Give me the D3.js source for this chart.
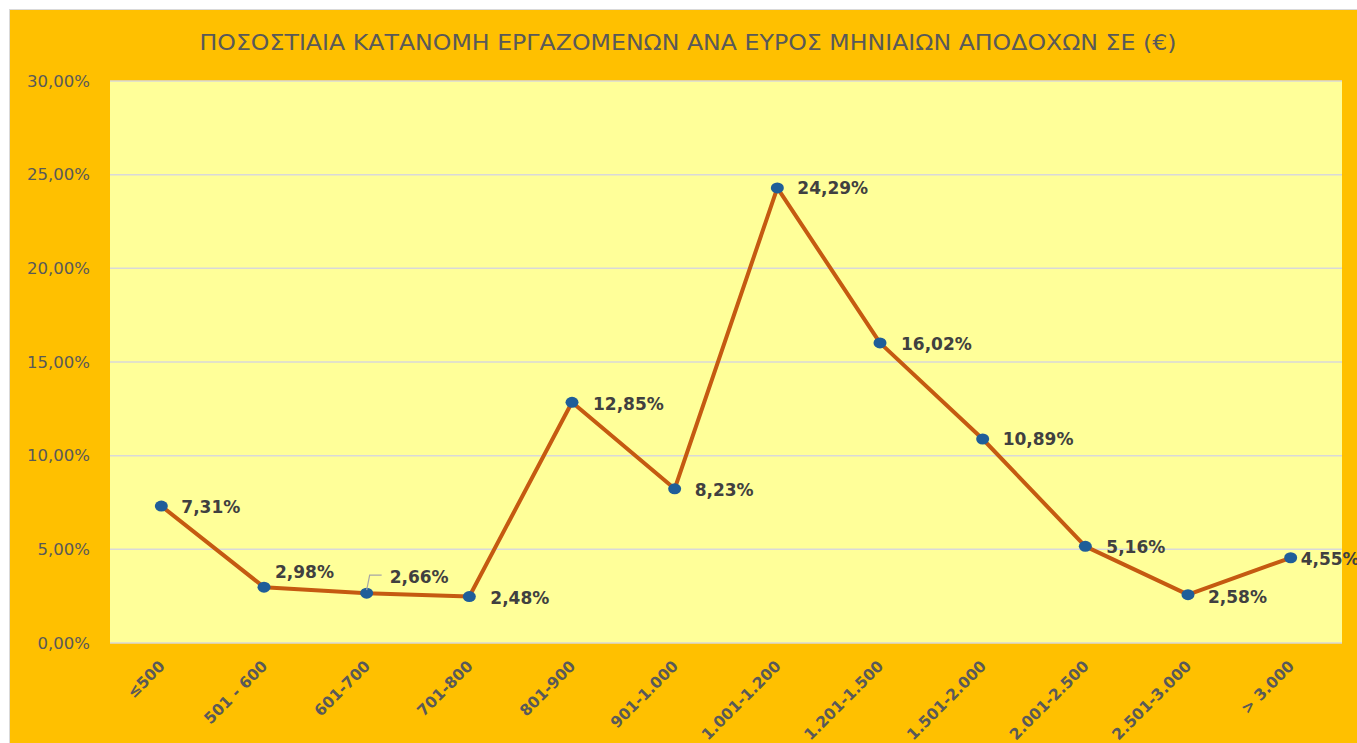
<!DOCTYPE html>
<html>
<head>
<meta charset="utf-8">
<script src="https://d3js.org/d3.v7.min.js"></script>
<style>
  body { margin: 0; background: #fff; }
  svg { display: block; }
</style>
</head>
<body>
<svg id="chart"></svg>
<script>
// salary bands and share of employees (%)
var categories = ["≤500", "501 - 600", "601-700", "701-800", "801-900", "901-1.000",
  "1.001-1.200", "1.201-1.500", "1.501-2.000", "2.001-2.500", "2.501-3.000", "> 3.000"];
var shares = [7.31, 2.98, 2.66, 2.48, 12.85, 8.23, 24.29, 16.02, 10.89, 5.16, 2.58, 4.55];
var yTicks = [0, 5, 10, 15, 20, 25, 30];
var title = "ΠΟΣΟΣΤΙΑΙΑ ΚΑΤΑΝΟΜΗ ΕΡΓΑΖΟΜΕΝΩΝ ΑΝΑ ΕΥΡΟΣ ΜΗΝΙΑΙΩΝ ΑΠΟΔΟΧΩΝ ΣΕ (€)";

var W = 1357, H = 743;
var plot = {left: 110, right: 1342, top: 81, bottom: 643};

var fmt = function(v) { return v.toFixed(2).replace(".", ",") + "%"; };

var svg = d3.select("#chart").attr("width", W).attr("height", H);

// outer chart area
svg.append("rect")
  .attr("x", 9.5).attr("y", 9.5)
  .attr("width", W).attr("height", H)
  .attr("fill", "#FFC000")
  .attr("stroke", "#D9D9D9");

svg.append("rect")
  .attr("x", plot.left).attr("y", plot.top)
  .attr("width", plot.right - plot.left).attr("height", plot.bottom - plot.top)
  .attr("fill", "#FFFF99");

svg.append("text")
  .attr("x", 688).attr("y", 50)
  .attr("text-anchor", "middle")
  .attr("font-family", "'DejaVu Sans', sans-serif")
  .attr("font-size", 21)
  .attr("textLength", 977)
  .attr("lengthAdjust", "spacingAndGlyphs")
  .attr("fill", "#595959")
  .text(title);

var x = d3.scalePoint()
  .domain(categories)
  .range([plot.left, plot.right])
  .padding(0.5);

var y = d3.scaleLinear()
  .domain([0, 30])
  .range([plot.bottom, plot.top]);

// gridlines
svg.append("g")
  .selectAll("line")
  .data(yTicks)
  .join("line")
  .attr("x1", plot.left).attr("x2", plot.right)
  .attr("y1", function(d) { return y(d); })
  .attr("y2", function(d) { return y(d); })
  .attr("stroke", "#D9D9D9")
  .attr("stroke-width", 1.5);

// y axis labels
var yAxis = svg.append("g")
  .attr("transform", "translate(" + 90 + ",0)")
  .call(d3.axisLeft(y).tickValues(yTicks).tickSize(0).tickPadding(0)
    .tickFormat(function(d) { return fmt(d); }));
yAxis.select(".domain").remove();
yAxis.selectAll("text")
  .attr("font-family", "'DejaVu Sans', sans-serif")
  .attr("font-size", 16.5)
  .attr("fill", "#595959");

// x axis labels
var xAxis = svg.append("g")
  .attr("transform", "translate(0," + plot.bottom + ")")
  .call(d3.axisBottom(x).tickSize(0).tickPadding(0));
xAxis.select(".domain").remove();
xAxis.selectAll("text")
  .attr("font-family", "'DejaVu Sans', sans-serif")
  .attr("font-weight", "bold")
  .attr("font-size", 15.5)
  .attr("fill", "#595959")
  .attr("text-anchor", "end")
  .attr("dy", null)
  .attr("transform", "translate(4,24) rotate(-45)");

// line
var line = d3.line()
  .x(function(d, i) { return x(categories[i]); })
  .y(function(d) { return y(d); });

svg.append("path")
  .datum(shares)
  .attr("d", line)
  .attr("fill", "none")
  .attr("stroke", "#C55A11")
  .attr("stroke-width", 4)
  .attr("stroke-linejoin", "round");

svg.append("g")
  .selectAll("ellipse")
  .data(shares)
  .join("ellipse")
  .attr("cx", function(d, i) { return x(categories[i]); })
  .attr("cy", function(d) { return y(d); })
  .attr("rx", 6.5).attr("ry", 5.5)
  .attr("fill", "#1F5E99");

// data labels: offsets relative to the point (label left edge / text middle)
var labelOffset = [[20, 1], [11, -15], [23, -16], [21, 2], [21, 2], [20, 1],
  [20, 0], [21, 1], [20, 0], [21, 1], [20, 2], [10, 1]];

// leader line for 601-700
var lx = x(categories[2]), ly = y(shares[2]);
svg.append("polyline")
  .attr("points", [[lx, ly - 3], [lx + 3, ly - 18], [lx + 15, ly - 18]].join(" "))
  .attr("fill", "none")
  .attr("stroke", "#A6A6A6")
  .attr("stroke-width", 1.2);

svg.append("g")
  .selectAll("text")
  .data(shares)
  .join("text")
  .attr("x", function(d, i) { return x(categories[i]) + labelOffset[i][0]; })
  .attr("y", function(d, i) { return y(d) + labelOffset[i][1]; })
  .attr("dy", "0.35em")
  .attr("font-family", "'DejaVu Sans', sans-serif")
  .attr("font-weight", "bold")
  .attr("font-size", 17)
  .attr("fill", "#404040")
  .text(function(d) { return fmt(d); });
</script>
</body>
</html>
